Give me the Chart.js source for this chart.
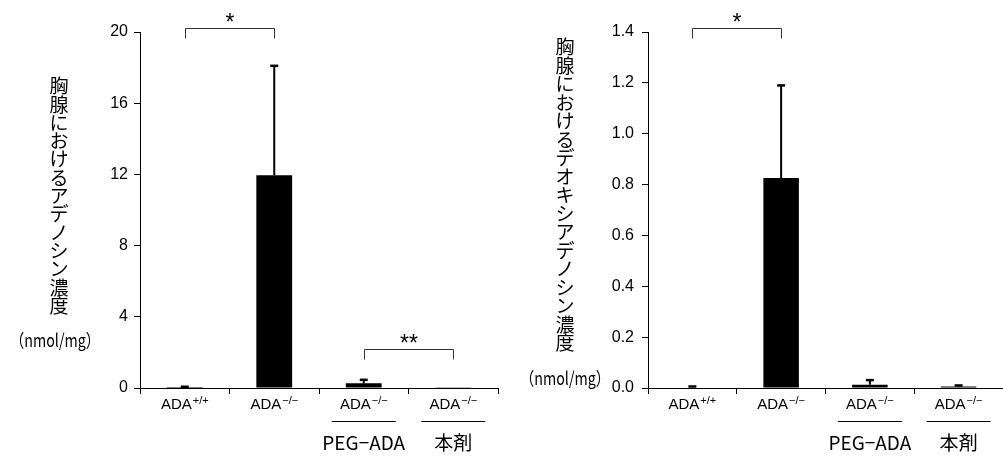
<!DOCTYPE html>
<html>
<head>
<meta charset="utf-8">
<script src="https://cdn.jsdelivr.net/npm/chart.js@4.4.0/dist/chart.umd.min.js"></script>
<style>
  body { margin: 0; background: #fff; }
  #wrap { position: relative; width: 1003px; height: 457px; }
  canvas { position: absolute; top: 0; }
</style>
</head>
<body>
<div id="wrap">
  <canvas id="adenosineChart" width="500" height="457" style="left:0"></canvas>
  <canvas id="deoxyChart" width="503" height="457" style="left:500px"></canvas>
</div>
<script>
// groups (genotype + treatment)
const groupBase = ['ADA', 'ADA', 'ADA', 'ADA'];
const groupSup = ['+/+', '−/−', '−/−', '−/−'];
const groupTreatment = ['', '', 'PEG−ADA', '本剤'];

// thymic adenosine, nmol/mg (mean, SD)
const adenosine = [0.05, 11.95, 0.26, 0.01];
const adenosineSd = [0.02, 6.15, 0.2, 0];
const adenosineTicks = [0, 4, 8, 12, 16, 20];
const adenosineSig = [
  { from: 0, to: 1, y: 20.2, mark: '*' },
  { from: 2, to: 3, y: 2.2, mark: '**' }
];

// thymic deoxyadenosine, nmol/mg (mean, SD)
const deoxy = [0.002, 0.826, 0.013, 0.006];
const deoxySd = [0.004, 0.364, 0.018, 0.004];
const deoxyTicks = [0, 0.2, 0.4, 0.6, 0.8, 1.0, 1.2, 1.4];
const deoxySig = [
  { from: 0, to: 1, y: 1.416, mark: '*' }
];

const LATIN = '"Liberation Sans", Arial, sans-serif';
const CJK = '"Noto Sans CJK JP", sans-serif';

function drawExtras(chart, o) {
  const ctx = chart.ctx;
  const x = chart.scales.x, y = chart.scales.y;
  ctx.save();

  // error bars (upper only)
  ctx.strokeStyle = '#000';
  o.values.forEach((v, i) => {
    if (!o.sd[i]) return;
    const cx = x.getPixelForValue(i);
    const y0 = y.getPixelForValue(v);
    const y1 = y.getPixelForValue(v + o.sd[i]);
    ctx.lineWidth = 2;
    ctx.beginPath(); ctx.moveTo(cx, y0); ctx.lineTo(cx, y1); ctx.stroke();
    ctx.lineWidth = 2.5;
    ctx.beginPath(); ctx.moveTo(cx - 4, y1); ctx.lineTo(cx + 4, y1); ctx.stroke();
  });

  // significance brackets
  o.sig.forEach(s => {
    const xa = Math.round(x.getPixelForValue(s.from)) + 0.5;
    const xb = Math.round(x.getPixelForValue(s.to)) + 0.5;
    const yb = Math.round(y.getPixelForValue(s.y)) + 0.5;
    ctx.strokeStyle = '#333';
    ctx.lineWidth = 1;
    ctx.beginPath();
    ctx.moveTo(xa, yb + 10); ctx.lineTo(xa, yb); ctx.lineTo(xb, yb); ctx.lineTo(xb, yb + 10);
    ctx.stroke();
    ctx.fillStyle = '#000';
    ctx.font = '23px ' + LATIN;
    ctx.textAlign = 'center';
    ctx.textBaseline = 'alphabetic';
    ctx.fillText(s.mark, (xa + xb) / 2, yb + 1);
  });

  // category labels
  ctx.fillStyle = '#000';
  ctx.textBaseline = 'alphabetic';
  groupBase.forEach((b, i) => {
    const cx = x.getPixelForValue(i);
    ctx.font = '15px ' + LATIN;
    const wb = ctx.measureText(b).width;
    ctx.font = '11px ' + LATIN;
    const ws = ctx.measureText(groupSup[i]).width;
    const left = cx - (wb + ws + 1) / 2;
    ctx.textAlign = 'left';
    ctx.font = '15px ' + LATIN;
    ctx.fillText(b, left, 409);
    ctx.font = '11px ' + LATIN;
    ctx.fillText(groupSup[i], left + wb + 1, 404);
    if (groupTreatment[i]) {
      ctx.strokeStyle = '#000';
      ctx.lineWidth = 1;
      ctx.beginPath();
      ctx.moveTo(cx - 32, 421.5); ctx.lineTo(cx + 32, 421.5);
      ctx.stroke();
      ctx.textAlign = 'center';
      ctx.font = '19px ' + CJK;
      ctx.fillText(groupTreatment[i], cx, 450, 84);
    }
  });

  // vertical axis title, one character per line
  ctx.font = '19px ' + CJK;
  ctx.textAlign = 'center';
  ctx.textBaseline = 'middle';
  Array.from(o.title).forEach((ch, i) => {
    ctx.fillText(ch, o.titleX, o.titleTop + i * o.titlePitch);
  });
  ctx.font = '18px ' + CJK;
  ctx.fillText('（nmol/mg）', o.unitX, o.unitY, 90);

  ctx.restore();
}

function makeChart(id, o) {
  return new Chart(document.getElementById(id), {
    type: 'bar',
    data: {
      labels: groupBase.map((b, i) => b + groupSup[i]),
      datasets: [{
        data: o.values,
        backgroundColor: '#000',
        borderWidth: 0,
        barPercentage: 0.4,
        categoryPercentage: 1
      }]
    },
    options: {
      responsive: false,
      animation: false,
      layout: { padding: { top: 32, right: o.padRight, bottom: 0, left: 0 } },
      plugins: { legend: { display: false }, tooltip: { enabled: false } },
      scales: {
        x: {
          ticks: { display: false },
          grid: { display: true, drawOnChartArea: false, drawTicks: true, tickLength: 6, color: '#000', offset: true },
          border: { display: true, color: '#000', width: 1 },
          afterFit: s => { s.height = 69; }
        },
        y: {
          min: 0,
          max: o.ticks[o.ticks.length - 1],
          afterBuildTicks: s => { s.ticks = o.ticks.map(v => ({ value: v })); },
          ticks: {
            color: '#000',
            padding: o.tickPad,
            font: { family: LATIN, size: 16 },
            callback: v => o.fmt(v)
          },
          grid: { display: true, drawOnChartArea: false, drawTicks: true, tickLength: 6, color: '#000' },
          border: { display: true, color: '#000', width: 1 },
          afterFit: s => { s.width = o.axisLeft; }
        }
      }
    },
    plugins: [{ id: 'extras', afterDraw: chart => drawExtras(chart, o) }]
  });
}

makeChart('adenosineChart', {
  values: adenosine, sd: adenosineSd, ticks: adenosineTicks, sig: adenosineSig,
  fmt: v => String(v),
  axisLeft: 140, padRight: 2, tickPad: 6,
  title: '胸腺におけるアデノシン濃度',
  titleX: 59, titleTop: 86, titlePitch: 18.3,
  unitX: 55, unitY: 340
});

makeChart('deoxyChart', {
  values: deoxy, sd: deoxySd, ticks: deoxyTicks, sig: deoxySig,
  fmt: v => v.toFixed(1),
  axisLeft: 148, padRight: 0, tickPad: 8,
  title: '胸腺におけるデオキシアデノシン濃度',
  titleX: 65, titleTop: 47, titlePitch: 18.5,
  unitX: 65, unitY: 378
});
</script>
</body>
</html>
